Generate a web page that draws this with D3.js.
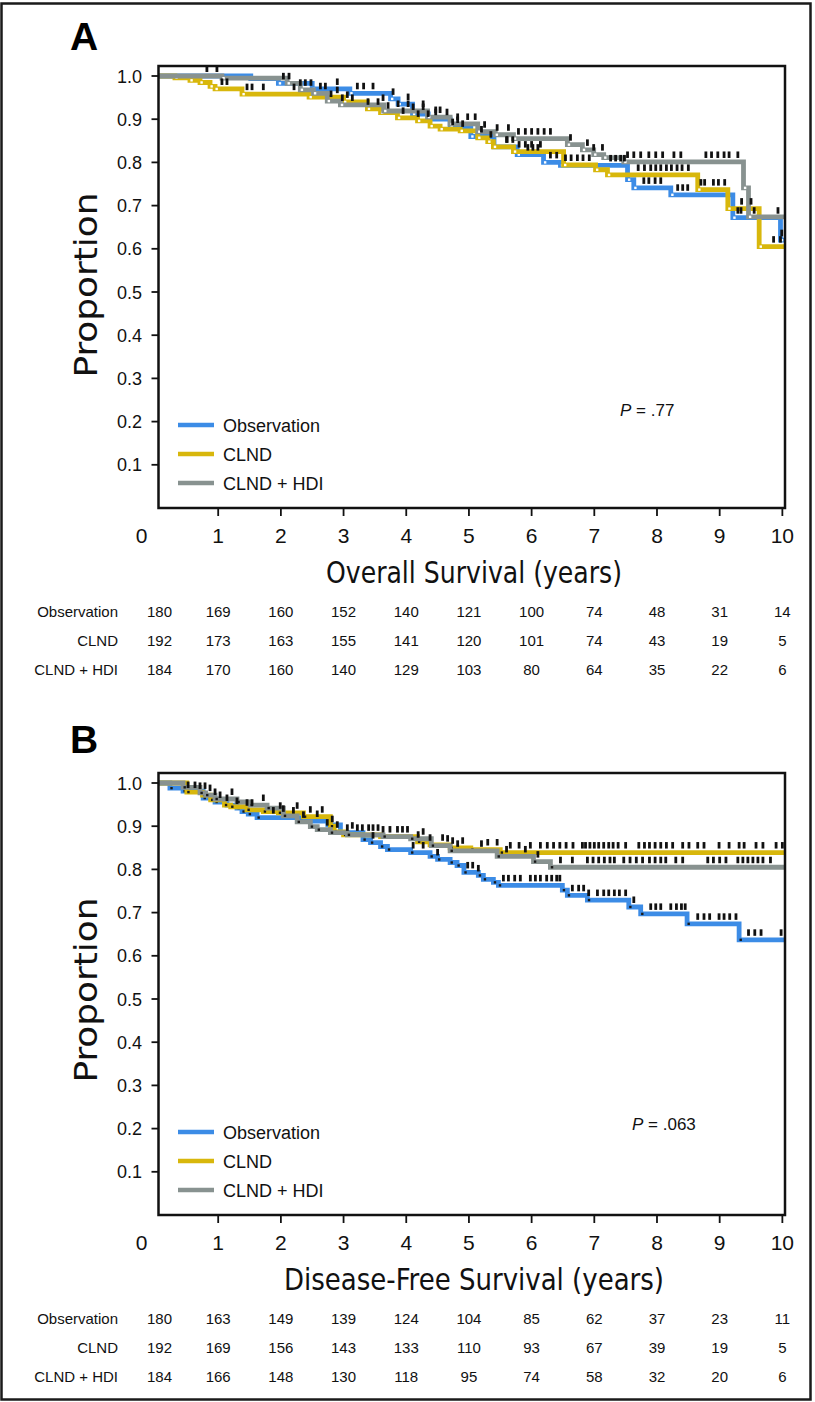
<!DOCTYPE html>
<html>
<head>
<meta charset="utf-8">
<script src="https://cdn.jsdelivr.net/npm/d3@7"></script>
<style>
  html, body { margin: 0; padding: 0; background: #fff; }
  svg { display: block; }
</style>
</head>
<body>
<div id="chart-container"></div>
<script>
// groups and shared ticks
const groups = ["Observation", "CLND", "CLND + HDI"];
const groupColors = ["#3c8ce6", "#d8b70c", "#889290"];
const yearTicks = [0, 1, 2, 3, 4, 5, 6, 7, 8, 9, 10];
const proportionTicks = [0.1, 0.2, 0.3, 0.4, 0.5, 0.6, 0.7, 0.8, 0.9, 1.0];

// Panel A - overall survival, steps as [years, proportion]
const osObservation = [[0, 1], [1.52, 0.994], [1.96, 0.983], [2.5, 0.97], [3.1, 0.96], [3.75, 0.947], [3.87, 0.935],
    [4.1, 0.912], [4.35, 0.90], [4.7, 0.882], [5.03, 0.86], [5.4, 0.836], [5.77, 0.818], [6.19, 0.80], [6.46, 0.793],
    [7.53, 0.76], [7.63, 0.741], [8.22, 0.725], [9.21, 0.672], [9.97, 0.62]];
const osCLND = [[0, 1], [0.31, 0.996], [0.55, 0.99], [0.71, 0.985], [0.87, 0.976], [0.95, 0.97], [1.38, 0.958],
    [2.45, 0.951], [3.0, 0.94], [3.38, 0.924], [3.59, 0.915], [3.86, 0.903], [4.18, 0.896], [4.38, 0.884],
    [4.54, 0.877], [4.86, 0.873], [5.14, 0.857], [5.30, 0.848], [5.39, 0.836], [5.71, 0.825], [6.51, 0.794],
    [7.02, 0.783], [7.21, 0.771], [8.65, 0.737], [9.13, 0.693], [9.63, 0.605]];
const osHDI = [[0, 1], [1.06, 0.995], [2.10, 0.983], [2.31, 0.968], [2.52, 0.96], [2.74, 0.942], [2.95, 0.933],
    [3.64, 0.919], [4.34, 0.905], [4.7, 0.889], [5.14, 0.871], [5.42, 0.864], [5.71, 0.855], [6.57, 0.841],
    [6.81, 0.829], [6.99, 0.818], [7.15, 0.811], [7.47, 0.801], [9.38, 0.741], [9.46, 0.674]];

// Panel A censoring times
const osCensorObservation = [2.04, 2.9, 3.22, 3.32, 3.47, 3.79, 4.03, 4.11, 4.27, 4.47, 4.65, 4.82, 5.2, 5.6, 5.94,
    6.02, 6.1, 6.3, 6.4, 7.26, 7.34, 7.42, 7.48, 7.79, 7.87, 7.97, 8.06, 8.33, 8.41, 8.49, 9.29, 9.34, 9.55, 9.93, 9.99];
const osCensorCLND = [1.06, 1.14, 1.46, 1.54, 1.72, 2.21, 2.9, 3.06, 3.39, 3.55, 3.71, 3.95, 4.19, 4.35, 4.74, 4.9,
    5.35, 5.61, 5.7, 5.8, 5.9, 6.0, 6.14, 6.54, 6.63, 6.73, 6.82, 6.92, 7.7, 7.8, 7.9, 7.98, 8.06, 8.15, 8.23, 8.32,
    8.4, 8.5, 8.7, 8.76, 8.9, 8.98, 9.08, 9.35, 9.5, 9.86, 9.97];
const osCensorHDI = [0.82, 0.98, 2.13, 2.31, 2.39, 2.48, 2.63, 2.71, 2.8, 2.98, 3.14, 3.63, 3.87, 4.03, 4.27, 4.47,
    4.54, 4.82, 4.98, 5.1, 5.25, 5.45, 5.63, 5.79, 5.9, 6.0, 6.1, 6.2, 6.3, 6.62, 6.89, 6.99, 7.13, 7.53, 7.63, 7.74,
    7.87, 7.98, 8.09, 8.27, 8.38, 8.78, 8.87, 8.97, 9.07, 9.15, 9.29];

// Panel A - numbers at risk
const osRiskObservation = [180, 169, 160, 152, 140, 121, 100, 74, 48, 31, 14];
const osRiskCLND = [192, 173, 163, 155, 141, 120, 101, 74, 43, 19, 5];
const osRiskHDI = [184, 170, 160, 140, 129, 103, 80, 64, 35, 22, 6];

// Panel B - disease-free survival
const dfsObservation = [[0, 1], [0.23, 0.988], [0.44, 0.981], [0.76, 0.965], [0.95, 0.956], [1.14, 0.949],
    [1.30, 0.942], [1.38, 0.934], [1.48, 0.928], [1.62, 0.92], [2.3, 0.912], [2.75, 0.903], [2.95, 0.885],
    [3.31, 0.869], [3.43, 0.862], [3.59, 0.853], [3.70, 0.846], [4.07, 0.839], [4.38, 0.83], [4.50, 0.823],
    [4.70, 0.816], [4.81, 0.809], [4.92, 0.793], [5.15, 0.786], [5.23, 0.777], [5.39, 0.770], [5.47, 0.763],
    [6.49, 0.752], [6.57, 0.740], [6.89, 0.729], [7.55, 0.713], [7.74, 0.697], [8.48, 0.674], [9.31, 0.637]];
const dfsCLND = [[0, 1], [0.5, 0.979], [0.75, 0.972], [0.88, 0.961], [1.1, 0.949], [1.2, 0.945], [1.46, 0.938],
    [1.72, 0.934], [1.96, 0.931], [2.36, 0.922], [2.79, 0.90], [2.85, 0.887], [3.0, 0.88], [3.59, 0.876],
    [4.18, 0.864], [4.38, 0.857], [4.70, 0.850], [5.03, 0.846], [5.5, 0.839]];
const dfsHDI = [[0, 1], [0.44, 0.99], [0.71, 0.977], [0.8, 0.972], [0.95, 0.963], [1.3, 0.956], [1.51, 0.949],
    [1.78, 0.942], [2.04, 0.924], [2.26, 0.91], [2.47, 0.899], [2.58, 0.892], [2.79, 0.885], [3.06, 0.88],
    [3.63, 0.876], [4.07, 0.871], [4.4, 0.855], [4.7, 0.843], [5.45, 0.83], [6.03, 0.818], [6.3, 0.805]];

// Panel B censoring times
const dfsCensorObservation = [1.03, 1.3, 1.88, 2.2, 2.58, 3.14, 3.47, 4.11, 4.27, 4.5, 4.98, 5.06, 5.15, 5.55, 5.63,
    5.73, 5.82, 5.98, 6.06, 6.14, 6.24, 6.32, 6.4, 6.45, 6.65, 6.75, 6.83, 6.91, 7.05, 7.15, 7.23, 7.32, 7.40, 7.50,
    7.63, 7.90, 7.98, 8.06, 8.22, 8.31, 8.39, 8.45, 8.65, 8.75, 8.84, 8.99, 9.07, 9.16, 9.26, 9.46, 9.56, 9.66, 9.98];
const dfsCensorCLND = [0.52, 0.63, 0.87, 1.14, 1.46, 1.54, 1.99, 2.26, 2.47, 2.66, 2.82, 2.9, 3.06, 3.22, 3.3, 3.4,
    3.55, 3.63, 3.86, 4.19, 4.38, 4.58, 4.74, 4.9, 5.3, 5.45, 5.66, 5.8, 5.98, 6.14, 6.25, 6.35, 6.45, 6.55, 6.66,
    6.81, 6.86, 6.93, 7.0, 7.07, 7.15, 7.23, 7.3, 7.38, 7.5, 7.71, 7.8, 7.88, 7.97, 8.06, 8.15, 8.25, 8.41, 8.51,
    8.65, 8.75, 8.99, 9.15, 9.31, 9.39, 9.58, 9.69, 9.9, 10.0];
const dfsCensorHDI = [0.71, 0.79, 0.95, 1.22, 1.72, 2.04, 2.36, 2.74, 3.47, 3.74, 3.94, 4.02, 4.27, 4.66, 4.82, 5.2,
    5.6, 5.9, 6.1, 6.46, 6.65, 6.89, 6.98, 7.07, 7.16, 7.25, 7.32, 7.47, 7.57, 7.67, 7.77, 7.88, 7.97, 8.06, 8.14,
    8.3, 8.41, 8.81, 8.9, 9.0, 9.1, 9.29, 9.37, 9.45, 9.53, 9.61, 9.69, 9.81];

// Panel B - numbers at risk
const dfsRiskObservation = [180, 163, 149, 139, 124, 104, 85, 62, 37, 23, 11];
const dfsRiskCLND = [192, 169, 156, 143, 133, 110, 93, 67, 39, 19, 5];
const dfsRiskHDI = [184, 166, 148, 130, 118, 95, 74, 58, 32, 20, 6];

const width = 815;
const height = 1402;
const sans = "'Liberation Sans', Arial, Helvetica, sans-serif";
const narrow = "'Liberation Sans Narrow', 'DejaVu Sans Condensed', 'Roboto Condensed', sans-serif";

const svg = d3.select("#chart-container")
    .append("svg")
    .attr("width", width)
    .attr("height", height);

// outer border
svg.append("rect")
    .attr("x", 1.5).attr("y", 3.5)
    .attr("width", 809).attr("height", 1396)
    .attr("fill", "none")
    .attr("stroke", "#1a1a1a")
    .attr("stroke-width", 2.5);

const x = d3.scaleLinear().domain([0, 10.05]).range([155.5, 785.5]);

// value of a step curve at time t
function survivalAt(steps, t) {
    let s = steps[0][1];
    steps.forEach(d => { if (d[0] <= t) s = d[1]; });
    return s;
}

function drawPanel(p) {
    const y = d3.scaleLinear().domain([0, 1]).range([p.bottom, p.bottom - 432]);
    const top = y(1) - 10;
    const left = 158.5, right = 785;
    const g = svg.append("g");

    // panel letter
    g.append("text")
        .attr("x", 70).attr("y", p.letterY)
        .text(p.letter)
        .style("font-family", sans)
        .style("font-weight", "bold")
        .style("font-size", "39px");

    const clipId = "clip" + p.letter;
    g.append("clipPath").attr("id", clipId)
        .append("rect")
        .attr("x", left).attr("y", top)
        .attr("width", right - left).attr("height", p.bottom - top);

    const plot = g.append("g").attr("clip-path", `url(#${clipId})`);

    const line = d3.line()
        .x(d => x(d[0]))
        .y(d => y(d[1]))
        .curve(d3.curveStepAfter);

    p.curves.forEach((steps, i) => {
        const pts = steps.concat([[x.domain()[1], steps[steps.length - 1][1]]]);
        plot.append("path")
            .attr("d", line(pts))
            .attr("fill", "none")
            .attr("stroke", groupColors[i])
            .attr("stroke-width", 4.8);

        // event markers at each step
        plot.selectAll(null)
            .data(steps.slice(1))
            .enter()
            .append("rect")
            .attr("x", d => x(d[0]) + 0.4)
            .attr("y", d => y(d[1]) - 1.2)
            .attr("width", 2.4)
            .attr("height", 2.4)
            .attr("fill", p.markerColor);
    });

    // censoring ticks
    p.censors.forEach((times, i) => {
        plot.selectAll(null)
            .data(times)
            .enter()
            .append("rect")
            .attr("x", d => x(d) - 1.4)
            .attr("y", d => y(survivalAt(p.curves[i], d)) - 10.5)
            .attr("width", 2.8)
            .attr("height", 6.5)
            .attr("fill", "#111");
    });

    // frame
    g.append("rect")
        .attr("x", left).attr("y", top)
        .attr("width", right - left).attr("height", p.bottom - top)
        .attr("fill", "none")
        .attr("stroke", "#111")
        .attr("stroke-width", 2.5);

    // y axis
    proportionTicks.forEach(v => {
        g.append("line")
            .attr("x1", left - 7).attr("x2", left)
            .attr("y1", y(v)).attr("y2", y(v))
            .attr("stroke", "#111").attr("stroke-width", 1.8);
        g.append("text")
            .attr("x", 142).attr("y", y(v) + 6.5)
            .attr("text-anchor", "end")
            .text(v.toFixed(1))
            .style("font-family", sans)
            .style("font-size", "18px")
            .style("fill", "#111");
    });

    // x axis
    yearTicks.forEach(t => {
        if (t > 0) {
            g.append("line")
                .attr("x1", x(t)).attr("x2", x(t))
                .attr("y1", p.bottom).attr("y2", p.bottom + 8)
                .attr("stroke", "#111").attr("stroke-width", 1.8);
        }
        g.append("text")
            .attr("x", t === 0 ? x(t) - 14 : x(t))
            .attr("y", p.bottom + 35)
            .attr("text-anchor", "middle")
            .text(t)
            .style("font-family", sans)
            .style("font-size", "21px")
            .style("fill", "#111");
    });

    g.append("text")
        .attr("x", 474).attr("y", p.bottom + 75)
        .attr("text-anchor", "middle")
        .attr("textLength", p.titleWidth)
        .attr("lengthAdjust", "spacingAndGlyphs")
        .text(p.title)
        .style("font-family", narrow)
        .style("font-size", "30px")
        .style("fill", "#111");

    g.append("text")
        .attr("transform", `translate(97, ${p.propY}) rotate(-90)`)
        .attr("text-anchor", "middle")
        .attr("textLength", 185)
        .attr("lengthAdjust", "spacingAndGlyphs")
        .text("Proportion")
        .style("font-family", narrow)
        .style("font-size", "32px")
        .style("fill", "#111");

    // legend
    groups.forEach((name, i) => {
        const ly = p.bottom - 83 + i * 29;
        g.append("line")
            .attr("x1", 178).attr("x2", 214)
            .attr("y1", ly).attr("y2", ly)
            .attr("stroke", groupColors[i])
            .attr("stroke-width", 4.7);
        g.append("text")
            .attr("x", 223).attr("y", ly + 7)
            .text(name)
            .style("font-family", sans)
            .style("font-size", "18px")
            .style("fill", "#111");
    });

    // P value
    const pText = g.append("text")
        .attr("x", p.pX).attr("y", p.pY)
        .style("font-family", sans)
        .style("font-size", "17px")
        .style("fill", "#111");
    pText.append("tspan").style("font-style", "italic").text("P");
    pText.append("tspan").text(" = " + p.pValue);

    // numbers at risk
    p.risk.forEach((row, i) => {
        const ry = p.bottom + 109 + i * 29;
        g.append("text")
            .attr("x", 118).attr("y", ry)
            .attr("text-anchor", "end")
            .text(groups[i])
            .style("font-family", sans)
            .style("font-size", "15px")
            .style("fill", "#111");
        g.selectAll(null)
            .data(row)
            .enter()
            .append("text")
            .attr("x", (d, j) => j === 0 ? x(0) + 4 : x(yearTicks[j]))
            .attr("y", ry)
            .attr("text-anchor", "middle")
            .text(d => d)
            .style("font-family", sans)
            .style("font-size", "15px")
            .style("fill", "#111");
    });
}

drawPanel({
    letter: "A", letterY: 50, bottom: 508,
    curves: [osObservation, osCLND, osHDI],
    censors: [osCensorObservation, osCensorCLND, osCensorHDI],
    risk: [osRiskObservation, osRiskCLND, osRiskHDI],
    markerColor: "#ffffff",
    title: "Overall Survival (years)", titleWidth: 296,
    propY: 285, pX: 620, pY: 416, pValue: ".77"
});

drawPanel({
    letter: "B", letterY: 753, bottom: 1215,
    curves: [dfsObservation, dfsCLND, dfsHDI],
    censors: [dfsCensorObservation, dfsCensorCLND, dfsCensorHDI],
    risk: [dfsRiskObservation, dfsRiskCLND, dfsRiskHDI],
    markerColor: "#1a1a1a",
    title: "Disease-Free Survival (years)", titleWidth: 380,
    propY: 990, pX: 632, pY: 1130, pValue: ".063"
});
</script>
</body>
</html>
